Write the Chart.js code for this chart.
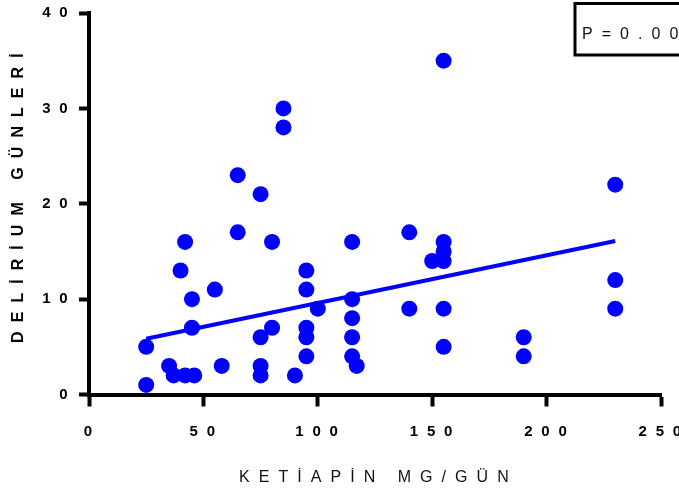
<!DOCTYPE html>
<html>
<head>
<meta charset="utf-8">
<script src="https://cdn.jsdelivr.net/npm/chart.js@4"></script>
<style>
  html, body { margin: 0; padding: 0; background: #fff; }
  canvas { display: block; }
</style>
</head>
<body>
<canvas id="chart" width="679" height="492"></canvas>
<script>
// dose (mg/day) and delirium days
const doseMg = [25, 25, 35, 37, 42, 46, 40, 42, 45, 45, 55, 58, 65, 65, 75, 75, 75, 75, 80, 80, 85, 85, 90,
  95, 95, 95, 95, 95, 100, 115, 115, 115, 115, 115, 117, 140, 140, 150, 155, 155, 155, 155, 155, 155, 190, 190, 230, 230, 230];
const deliriumDays = [5, 1, 3, 2, 2, 2, 13, 16, 10, 7, 11, 3, 23, 17, 21, 6, 3, 2, 16, 7, 30, 28, 2,
  13, 11, 7, 6, 4, 9, 16, 10, 8, 6, 4, 3, 17, 9, 14, 35, 16, 15, 14, 9, 5, 6, 4, 22, 12, 9];

// fitted line end points
const fitX = [25, 230];
const fitY = [5.85, 16.1];

const xTicks = [0, 50, 100, 150, 200, 250];
const yTicks = [0, 10, 20, 30, 40];

const xTitle = 'K E T İ A P İ N   M G / G Ü N';
const yTitle = '  D E L İ R İ U M   G Ü N L E R İ';
const pLabel = 'P = 0 . 0 0';

const BLUE = '#0000ff';
const FONT = "'Liberation Sans', Arial, sans-serif";

const spaced = v => String(v).split('').join(' ');

const spacingPlugin = {
  id: 'spacing',
  beforeDraw(chart) {
    chart.ctx.letterSpacing = '2.3px';
  }
};

// the P value box in the top right corner
const pBoxPlugin = {
  id: 'pBox',
  afterDraw(chart) {
    const ctx = chart.ctx;
    ctx.save();
    ctx.lineWidth = 3;
    ctx.strokeStyle = '#000';
    ctx.strokeRect(575, 3.5, 120, 51.5);
    ctx.fillStyle = '#111';
    ctx.font = '16px ' + FONT;
    ctx.textBaseline = 'alphabetic';
    ctx.textAlign = 'left';
    ctx.fillText(pLabel, 582, 39);
    ctx.restore();
  }
};

const ctx = document.getElementById('chart').getContext('2d');
new Chart(ctx, {
  type: 'scatter',
  data: {
    datasets: [
      {
        label: 'points',
        data: doseMg.map((x, i) => ({ x, y: deliriumDays[i] })),
        backgroundColor: BLUE,
        borderColor: BLUE,
        borderWidth: 0,
        pointRadius: 8,
        pointHoverRadius: 8,
        clip: false
      },
      {
        type: 'line',
        label: 'fit',
        data: fitX.map((x, i) => ({ x, y: fitY[i] })),
        borderColor: BLUE,
        borderWidth: 4,
        pointRadius: 0,
        fill: false
      }
    ]
  },
  options: {
    responsive: false,
    animation: false,
    layout: { padding: { top: 13, right: 18, left: 0, bottom: 0 } },
    plugins: {
      legend: { display: false },
      tooltip: { enabled: false }
    },
    scales: {
      x: {
        type: 'linear',
        min: 0,
        max: 250,
        afterFit: s => {
          s.height = 97.5;
          s.paddingLeft = 0;
          s.paddingRight = 0;
        },
        afterBuildTicks: s => { s.ticks = xTicks.map(v => ({ value: v })); },
        border: { display: true, color: '#000', width: 4 },
        grid: {
          drawOnChartArea: false,
          drawTicks: true,
          tickLength: 12,
          tickWidth: 4,
          tickColor: '#000'
        },
        ticks: {
          color: '#000',
          padding: 16,
          maxRotation: 0,
          font: { family: FONT, size: 15, weight: 'bold' },
          callback: v => spaced(v)
        },
        title: {
          display: true,
          text: xTitle,
          color: '#111',
          padding: { top: 0, bottom: 5 },
          font: { family: FONT, size: 16, weight: 'normal' }
        }
      },
      y: {
        type: 'linear',
        min: 0,
        max: 40,
        afterFit: s => {
          s.width = 89;
          s.paddingTop = 0;
          s.paddingBottom = 0;
        },
        afterBuildTicks: s => { s.ticks = yTicks.map(v => ({ value: v })); },
        border: { display: true, color: '#000', width: 4 },
        grid: {
          drawOnChartArea: false,
          drawTicks: true,
          tickLength: 10,
          tickWidth: 4,
          tickColor: '#000'
        },
        ticks: {
          color: '#000',
          padding: 9,
          font: { family: FONT, size: 15, weight: 'bold' },
          callback: v => spaced(v)
        },
        title: {
          display: true,
          text: yTitle,
          color: '#000',
          padding: { top: 9, bottom: 0 },
          font: { family: FONT, size: 16, weight: 'bold' }
        }
      }
    }
  },
  plugins: [spacingPlugin, pBoxPlugin]
});
</script>
</body>
</html>
